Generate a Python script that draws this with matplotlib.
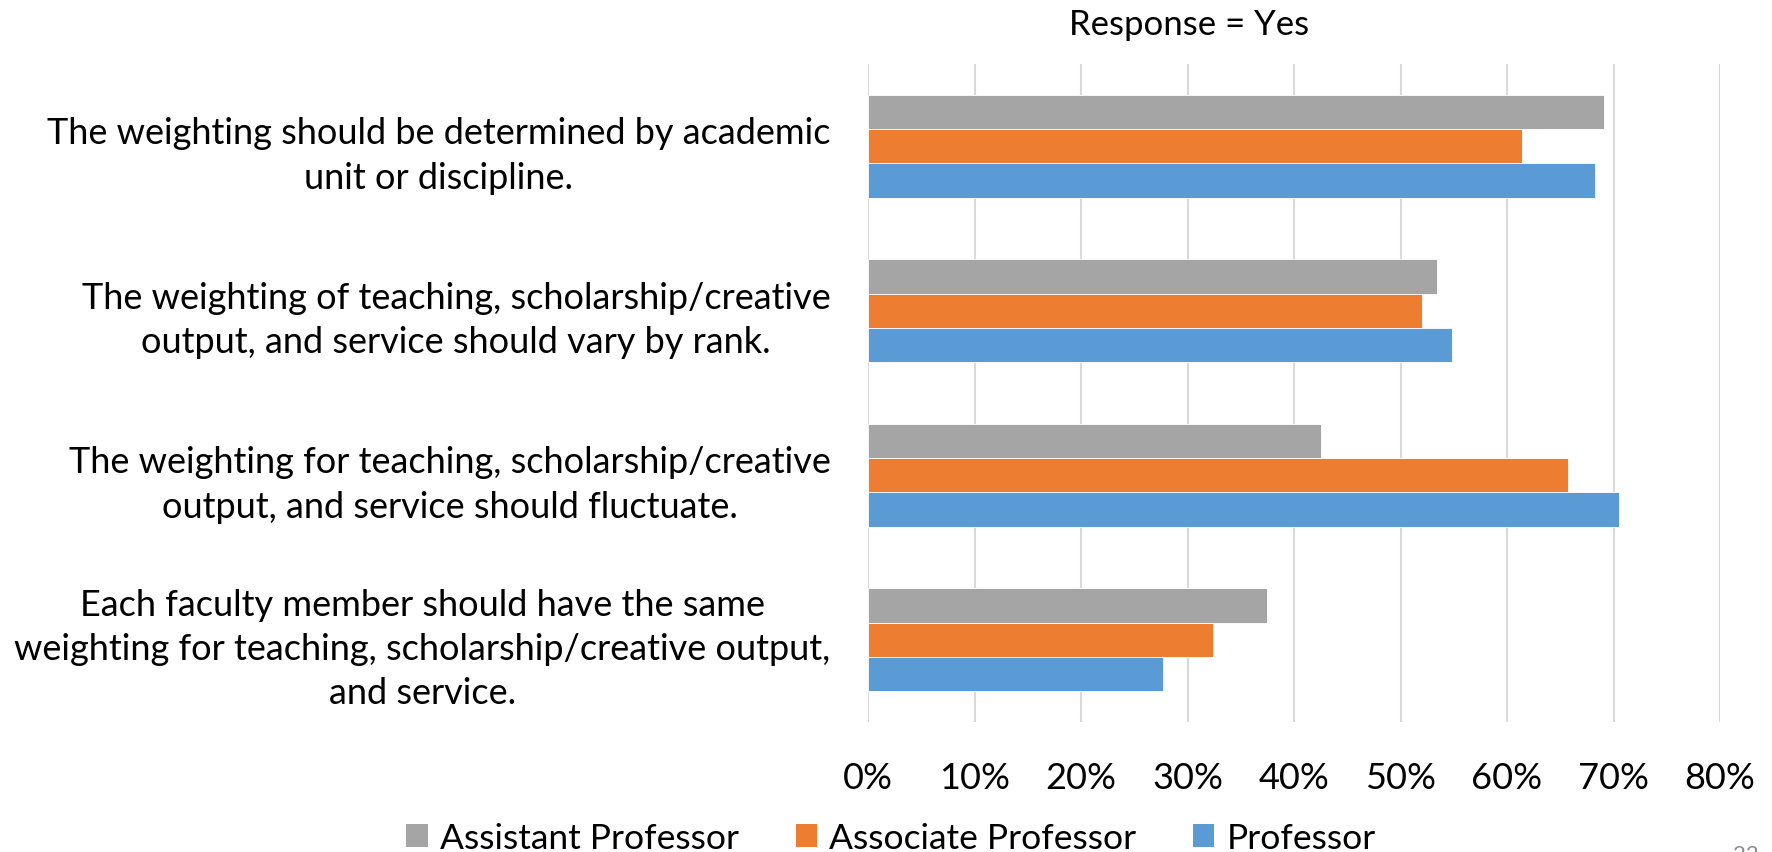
import numpy as np
import matplotlib
matplotlib.use("Agg")
import matplotlib.pyplot as plt
from matplotlib.patches import Patch
from matplotlib.ticker import PercentFormatter

plt.rcParams['font.family'] = ['Lato', 'DejaVu Sans']

statements = [
    "The weighting should be determined by academic\nunit or discipline.",
    "The weighting of teaching, scholarship/creative\noutput, and service should vary by rank.",
    "The weighting for teaching, scholarship/creative\noutput, and service should fluctuate.",
    "Each faculty member should have the same\nweighting for teaching, scholarship/creative output,\nand service.",
]
series = ["Assistant Professor", "Associate Professor", "Professor"]
assistant = [69.1, 53.4, 42.5, 37.5]
associate = [61.4, 52.0, 65.7, 32.4]
professor = [68.3, 54.8, 70.5, 27.7]
colors = ["#A5A5A5", "#ED7D31", "#5B9BD5"]
xticks = [0, 10, 20, 30, 40, 50, 60, 70, 80]

W, H = 1772, 853
fig = plt.figure(figsize=(W / 100, H / 100), dpi=100)
ax = fig.add_axes([868 / W, (H - 723) / H, (1720 - 868) / W, (723 - 65) / H])

y = np.arange(len(statements))
h = 0.208
for k, (vals, c) in enumerate(zip([assistant, associate, professor], colors)):
    ax.barh(y + (k - 1) * h, vals, height=h, color=c, edgecolor='white', linewidth=0.6)

ax.set_ylim(len(statements) - 0.5, -0.5)
ax.set_xlim(0, 80)
ax.set_xticks(xticks)
ax.xaxis.set_major_formatter(PercentFormatter(decimals=0))
ax.set_yticks(y)
ax.set_yticklabels(statements, multialignment='center', linespacing=1.42)
ax.tick_params(axis='both', length=0, labelsize=26)
ax.tick_params(axis='y', pad=27)
ax.tick_params(axis='x', pad=28)
ax.grid(axis='x', color='#D9D9D9', linewidth=1.5)
ax.set_axisbelow(True)
for s in ax.spines.values():
    s.set_visible(False)

fig.text(1189 / W, 1 - 25 / H, "Response = Yes", ha='center', va='center', fontsize=25)

handles = [Patch(facecolor=c, edgecolor='none') for c in colors]
fig.legend(handles, series, loc='center', bbox_to_anchor=(0.503, 14 / H), ncol=3,
           frameon=False, fontsize=25.5, handlelength=0.6, handleheight=0.6,
           handletextpad=0.35, columnspacing=1.6, borderaxespad=0)

# slide number in the bottom corner
fig.text(1746 / W, -2 / H, "22", ha='center', va='center', fontsize=16, color='#8C8C8C')

fig.savefig("out.png", dpi=100)
